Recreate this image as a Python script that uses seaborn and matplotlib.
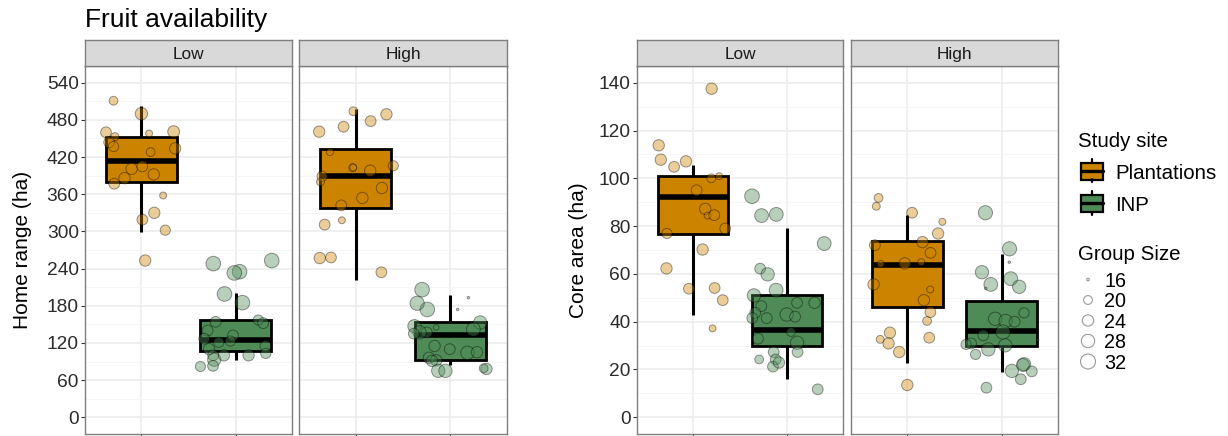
import numpy as np
import pandas as pd
import matplotlib
matplotlib.use("Agg")
import matplotlib.pyplot as plt
import seaborn as sns
from matplotlib.patches import Rectangle, Circle
from matplotlib.lines import Line2D

# ---------------- data ----------------
sites = ["Plantations", "INP"]
fruit_levels = ["Low", "High"]
size_legend = [16, 20, 24, 28, 32]

# Home range (ha)
hr_low_plant = [511, 490, 458, 460, 453, 461, 444, 437, 434, 428, 401, 405, 392, 386, 377, 358, 330, 319, 302, 253]
hr_low_plant_gs = [20, 26, 18, 23, 19, 25, 23, 22, 24, 20, 24, 23, 24, 24, 23, 18, 24, 23, 22, 24]
hr_low_inp = [253, 248, 235, 233, 199, 185, 154, 157, 152, 140, 132, 121, 127, 115, 123, 110, 100, 100, 103, 93, 82, 83, 100]
hr_low_inp_gs = [31, 31, 31, 31, 31, 31, 23, 22, 23, 23, 23, 22, 23, 23, 22, 24, 24, 23, 22, 28, 22, 23, 24]
hr_high_plant = [494, 489, 478, 469, 461, 428, 406, 403, 398, 389, 380, 370, 354, 342, 318, 311, 258, 257, 234, 403]
hr_high_plant_gs = [20, 24, 23, 23, 24, 18, 22, 19, 24, 22, 19, 24, 24, 23, 18, 23, 23, 24, 23, 18]
hr_high_inp = [206, 193, 174, 184, 174, 153, 147, 142, 137, 137, 135, 115, 104, 110, 105, 96, 92, 91, 78, 79, 75, 75, 145]
hr_high_inp_gs = [31, 16, 31, 30, 16, 28, 28, 29, 23, 28, 23, 24, 28, 23, 24, 24, 24, 24, 24, 20, 28, 28, 17]

# Core area (ha)
ca_low_plant = [137.5, 113.8, 107.8, 107.1, 104.8, 100.9, 100.0, 95.0, 87.2, 84.4, 84.6, 79.0, 76.9, 70.2, 62.3, 53.8, 54.1, 49.0, 37.2]
ca_low_plant_gs = [24, 24, 24, 24, 23, 18, 20, 23, 24, 18, 23, 23, 22, 24, 24, 23, 23, 23, 18]
ca_low_inp = [92.5, 84.9, 84.4, 72.7, 62.2, 59.8, 53.2, 51.0, 47.9, 47.9, 46.5, 43.0, 43.7, 42.1, 41.5, 41.5, 32.9, 35.7, 31.2, 27.3, 27.3, 24.2, 24.2, 21.2, 22.9, 11.7]
ca_low_inp_gs = [31, 29, 29, 29, 23, 28, 29, 28, 24, 23, 23, 28, 23, 23, 23, 23, 23, 20, 28, 23, 23, 23, 20, 23, 24, 23]
ca_high_plant = [91.8, 88.3, 85.6, 81.8, 76.9, 73.3, 72.0, 68.8, 64.9, 64.2, 64.4, 55.6, 53.5, 49.0, 44.0, 40.3, 35.4, 33.3, 30.9, 32.6, 27.3, 13.5]
ca_high_plant_gs = [20, 19, 23, 18, 24, 24, 23, 23, 18, 18, 24, 24, 18, 24, 23, 20, 24, 23, 24, 19, 24, 24]
ca_high_inp = [85.6, 70.5, 64.9, 60.7, 58.0, 55.6, 54.6, 53.9, 43.7, 41.2, 40.3, 40.0, 35.7, 34.3, 32.3, 30.9, 28.4, 30.1, 30.5, 26.3, 22.2, 21.9, 19.4, 19.2, 15.9, 12.4]
ca_high_inp_gs = [30, 30, 16, 28, 29, 29, 28, 16, 22, 28, 28, 23, 30, 23, 16, 23, 28, 28, 22, 22, 28, 27, 28, 23, 23, 23]

# box statistics: [lower whisker, Q1, median, Q3, upper whisker]
hr_box_low_plant = [299, 380, 414, 452, 502]
hr_box_low_inp = [93, 107, 125, 157, 200]
hr_box_high_plant = [222, 338, 390, 433, 498]
hr_box_high_inp = [85, 92, 132, 153, 198]
ca_box_low_plant = [42.8, 76.9, 92.0, 100.9, 105.7]
ca_box_low_inp = [16.2, 29.8, 36.5, 51.0, 79.3]
ca_box_high_plant = [22.6, 46.0, 63.7, 73.6, 84.6]
ca_box_high_inp = [18.9, 29.8, 36.1, 48.6, 68.4]

hr_ticks = [0, 60, 120, 180, 240, 300, 360, 420, 480, 540]
ca_ticks = [0, 20, 40, 60, 80, 100, 120, 140]

# ---------------- assemble ----------------
points = {
    ("hr", "Low", "Plantations"): (hr_low_plant, hr_low_plant_gs),
    ("hr", "Low", "INP"): (hr_low_inp, hr_low_inp_gs),
    ("hr", "High", "Plantations"): (hr_high_plant, hr_high_plant_gs),
    ("hr", "High", "INP"): (hr_high_inp, hr_high_inp_gs),
    ("ca", "Low", "Plantations"): (ca_low_plant, ca_low_plant_gs),
    ("ca", "Low", "INP"): (ca_low_inp, ca_low_inp_gs),
    ("ca", "High", "Plantations"): (ca_high_plant, ca_high_plant_gs),
    ("ca", "High", "INP"): (ca_high_inp, ca_high_inp_gs),
}
boxes = {
    ("hr", "Low", "Plantations"): hr_box_low_plant,
    ("hr", "Low", "INP"): hr_box_low_inp,
    ("hr", "High", "Plantations"): hr_box_high_plant,
    ("hr", "High", "INP"): hr_box_high_inp,
    ("ca", "Low", "Plantations"): ca_box_low_plant,
    ("ca", "Low", "INP"): ca_box_low_inp,
    ("ca", "High", "Plantations"): ca_box_high_plant,
    ("ca", "High", "INP"): ca_box_high_inp,
}

rng = np.random.default_rng(11)
rows = []
for (metric, fruit, site), (vals, gs) in points.items():
    si = sites.index(site)
    jit = rng.uniform(-0.4, 0.4, len(vals))
    for v, g, j in zip(vals, gs, jit):
        rows.append(dict(metric=metric, fruit=fruit, site=site, value=v, group_size=g, xj=si + j))
df = pd.DataFrame(rows)

# ---------------- style ----------------
sns.set_theme(style="white")
plt.rcParams["font.family"] = ["Liberation Sans", "DejaVu Sans"]

colors = {"Plantations": "#CC8400", "INP": "#4E8B56"}
W, H = 1228, 436
DPI = 100


def diam_px(g):
    # ggplot2 area scale, range 1..6
    t = max(g - 16, 0) / 16.0
    return 2.5 * (1 + 5 * np.sqrt(t))


def area_pt2(g):
    d_pt = diam_px(g) * 72.0 / DPI
    return d_pt ** 2


all_gs = sorted(df["group_size"].unique())
size_map = {g: area_pt2(g) for g in all_gs}

fig = plt.figure(figsize=(W / DPI, H / DPI), dpi=DPI)
fig.patch.set_facecolor("white")


def px_axes(x0, y0, x1, y1):
    return fig.add_axes([x0 / W, 1 - y1 / H, (x1 - x0) / W, (y1 - y0) / H])


PANEL_TOP, PANEL_BOT = 66, 434
STRIP_TOP = 40
panels = [
    ("hr", "Low", 85, 292, True),
    ("hr", "High", 299, 507, False),
    ("ca", "Low", 637, 843, True),
    ("ca", "High", 851, 1058, False),
]
border_col = "#7F7F7F"

for metric, fruit, x0, x1, first in panels:
    ax = px_axes(x0, PANEL_TOP, x1, PANEL_BOT)
    ax.set_facecolor("white")
    if metric == "hr":
        ax.set_ylim(-27, 567)
        ticks = hr_ticks
    else:
        ax.set_ylim(-7, 147)
        ticks = ca_ticks
    step = ticks[1] - ticks[0]
    ax.set_yticks(ticks)
    ax.set_yticks([t + step / 2 for t in ticks[:-1]], minor=True)
    ax.set_xlim(-0.6, 1.6)
    ax.set_xticks([0, 1])
    ax.set_xticklabels(["", ""])
    ax.grid(which="major", color="#EBEBEB", linewidth=1.1, zorder=0)
    ax.grid(which="minor", axis="y", color="#F4F4F4", linewidth=0.6, zorder=0)
    ax.set_axisbelow(True)
    for sp in ax.spines.values():
        sp.set_color(border_col)
        sp.set_linewidth(1.0)
    ax.tick_params(axis="x", which="major", length=3, width=0.8, color="#333333", bottom=True)
    ax.tick_params(axis="y", which="minor", length=0, left=False)
    if first:
        ax.tick_params(axis="y", which="major", length=3, width=0.8, color="#333333",
                       labelsize=13.8, labelcolor="#2B2B2B", pad=1.5, left=True)
    else:
        ax.tick_params(axis="y", which="major", length=0, left=False, labelleft=False)
    ax.set_xlabel("")
    ax.set_ylabel("")

    # boxes
    for i, site in enumerate(sites):
        wl, q1, med, q3, wh = boxes[(metric, fruit, site)]
        ax.bxp([dict(whislo=wl, q1=q1, med=med, q3=q3, whishi=wh, fliers=[])],
               positions=[i], widths=0.75, patch_artist=True, showcaps=False,
               showfliers=False, manage_ticks=False,
               boxprops=dict(facecolor=colors[site], edgecolor="black", linewidth=2.0),
               whiskerprops=dict(color="black", linewidth=2.2, solid_capstyle="butt"),
               medianprops=dict(color="black", linewidth=4.0, solid_capstyle="butt"),
               zorder=2)

    sub = df[(df.metric == metric) & (df.fruit == fruit)]
    sns.scatterplot(data=sub, x="xj", y="value", hue="site", palette=colors,
                    size="group_size", sizes=size_map, alpha=0.4,
                    edgecolor="black", linewidth=0.7, legend=False, ax=ax, zorder=3)
    ax.set_xlabel("")
    ax.set_ylabel("")
    ax.set_xlim(-0.6, 1.6)

    # strip
    sax = px_axes(x0, STRIP_TOP, x1, PANEL_TOP)
    sax.set_facecolor("#D9D9D9")
    sax.set_xticks([])
    sax.set_yticks([])
    for sp in sax.spines.values():
        sp.set_color(border_col)
        sp.set_linewidth(1.0)
    sax.text(0.5, 0.45, fruit, ha="center", va="center", fontsize=12.4, color="#1A1A1A",
             transform=sax.transAxes)

# titles and axis labels
fig.text(85 / W, 1 - 27 / H, "Fruit availability", fontsize=19, color="black",
         ha="left", va="baseline")
fig.text(23 / W, 1 - 250 / H, "Home range (ha)", rotation=90, fontsize=15,
         ha="center", va="center", color="black")
fig.text(579 / W, 1 - 250 / H, "Core area (ha)", rotation=90, fontsize=15,
         ha="center", va="center", color="black")

# ---------------- legend (drawn in figure pixel space) ----------------
lax = fig.add_axes([0, 0, 1, 1], zorder=10)
lax.set_xlim(0, W)
lax.set_ylim(H, 0)
lax.axis("off")
lax.patch.set_alpha(0)

lax.text(1078, 146.5, "Study site", fontsize=14.8, ha="left", va="baseline", color="black")
for k, site in enumerate(sites):
    cy = 171 + k * 32
    lax.add_patch(Rectangle((1081, cy - 8.5), 22, 17, facecolor=colors[site],
                            edgecolor="black", linewidth=1.6))
    lax.add_line(Line2D([1092, 1092], [cy - 11.5, cy - 8.5], color="black", linewidth=1.6))
    lax.add_line(Line2D([1092, 1092], [cy + 8.5, cy + 11.5], color="black", linewidth=1.6))
    lax.add_line(Line2D([1081, 1103], [cy, cy], color="black", linewidth=2.4))
    lax.text(1115, cy + 7.5, site, fontsize=14.8, ha="left", va="baseline", color="black")

lax.text(1078, 260, "Group Size", fontsize=14.8, ha="left", va="baseline", color="black")
for k, g in enumerate(size_legend):
    base = 286.5 + k * 20.5
    cy = base - 7
    lax.add_patch(Circle((1088, cy), diam_px(g) / 2, facecolor="white",
                         edgecolor="#9A9A9A", linewidth=0.8))
    lax.text(1104, base, str(g), fontsize=14.2, ha="left", va="baseline", color="black")

fig.savefig("out.png", dpi=DPI)
